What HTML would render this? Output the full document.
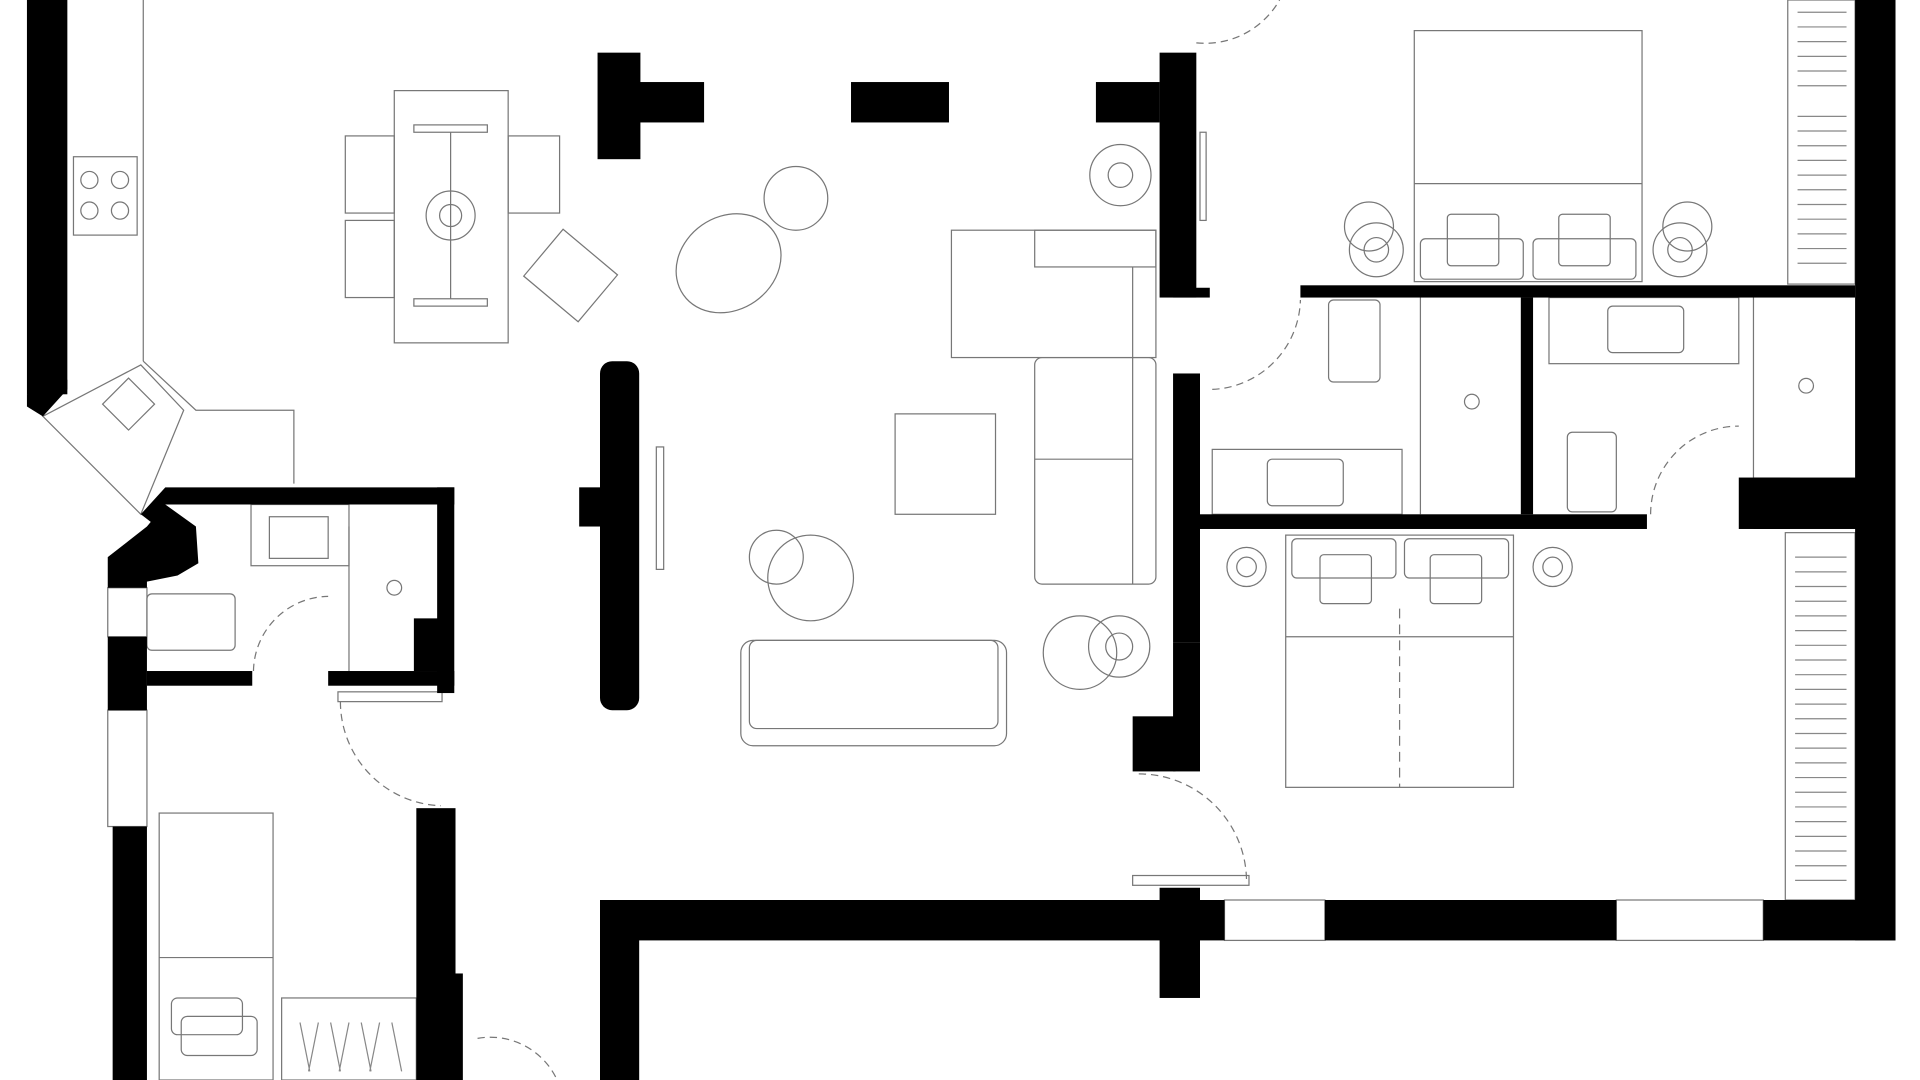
<!DOCTYPE html>
<html><head><meta charset="utf-8"><style>
html,body{margin:0;padding:0;background:#fff;width:1920px;height:1080px;overflow:hidden}
svg{display:block}
</style></head><body>
<svg width="1920" height="1080" viewBox="0 0 1568 882" preserveAspectRatio="none" xmlns="http://www.w3.org/2000/svg">
<rect width="1568" height="882" fill="#fff"/>
<g fill="none" stroke="#777" stroke-width="1">
 <!-- kitchen -->
 <rect x="60" y="128" width="52" height="64"/>
 <circle cx="73" cy="147" r="7"/><circle cx="98" cy="147" r="7"/><circle cx="73" cy="172" r="7"/><circle cx="98" cy="172" r="7"/>
 <line x1="117" y1="0" x2="117" y2="295"/>
 <polyline points="117,295 160,335 240,335 240,395"/>
 <polygon points="35,340 115,298 150,335 115,420"/>
 <rect x="90" y="315" width="30" height="30" transform="rotate(45 105 330)"/>
 <!-- dining -->
 <rect x="322" y="74" width="93" height="206"/>
 <rect x="282" y="111" width="40" height="63"/><rect x="282" y="180" width="40" height="63"/>
 <rect x="415" y="111" width="42" height="63"/>
 <rect x="338" y="102" width="60" height="6"/><rect x="338" y="244" width="60" height="6"/>
 <line x1="368" y1="108" x2="368" y2="244"/>
 <circle cx="368" cy="176" r="20"/><circle cx="368" cy="176" r="9"/>
 <rect x="437" y="200" width="58" height="50" transform="rotate(40 466 225)"/>
 <ellipse cx="595" cy="215" rx="45" ry="38" transform="rotate(-35 595 215)"/>
 <circle cx="650" cy="162" r="26"/>
 <circle cx="915" cy="143" r="25"/><circle cx="915" cy="143" r="10"/>
 <!-- sofa -->
 <rect x="777" y="188" width="167" height="104"/>
 <rect x="845" y="188" width="99" height="30"/>
 <rect x="845" y="292" width="99" height="185" rx="6"/>
 <line x1="845" y1="375" x2="925" y2="375"/>
 <line x1="925" y1="218" x2="925" y2="477"/>
 <rect x="731" y="338" width="82" height="82"/>
 <circle cx="634" cy="455" r="22"/><circle cx="662" cy="472" r="35"/>
 <rect x="605" y="523" width="217" height="86" rx="10"/>
 <rect x="612" y="523" width="203" height="72" rx="6"/>
 <circle cx="882" cy="533" r="30"/><circle cx="914" cy="528" r="25"/><circle cx="914" cy="528" r="11"/>
 <rect x="536" y="365" width="6" height="100"/>
 <!-- bedroom top right -->
 <rect x="1155" y="25" width="186" height="205"/>
 <line x1="1155" y1="150" x2="1341" y2="150"/>
 <rect x="1160" y="195" width="84" height="33" rx="4"/><rect x="1252" y="195" width="84" height="33" rx="4"/>
 <rect x="1182" y="175" width="42" height="42" rx="3"/><rect x="1273" y="175" width="42" height="42" rx="3"/>
 <circle cx="1118" cy="185" r="20"/><circle cx="1124" cy="204" r="22"/><circle cx="1124" cy="204" r="10"/>
 <circle cx="1378" cy="185" r="20"/><circle cx="1372" cy="204" r="22"/><circle cx="1372" cy="204" r="10"/>
 <rect x="980" y="108" width="5" height="72"/>
 <!-- bathrooms right -->
 <rect x="1085" y="245" width="42" height="67" rx="4"/>
 <line x1="1160" y1="243" x2="1160" y2="420"/>
 <circle cx="1202" cy="328" r="6"/>
 <rect x="990" y="367" width="155" height="53"/>
 <rect x="1035" y="375" width="62" height="38" rx="4"/>
 <rect x="1265" y="243" width="155" height="54"/>
 <rect x="1313" y="250" width="62" height="38" rx="4"/>
 <line x1="1432" y1="243" x2="1432" y2="390"/>
 <circle cx="1475" cy="315" r="6"/>
 <rect x="1280" y="353" width="40" height="65" rx="4"/>
 <!-- bedroom lower right -->
 <rect x="1050" y="437" width="186" height="206"/>
 <rect x="1055" y="440" width="85" height="32" rx="4"/><rect x="1147" y="440" width="85" height="32" rx="4"/>
 <rect x="1078" y="453" width="42" height="40" rx="3"/><rect x="1168" y="453" width="42" height="40" rx="3"/>
 <line x1="1050" y1="520" x2="1236" y2="520"/>
 <line x1="1143" y1="497" x2="1143" y2="643" stroke-dasharray="8,5"/>
 <circle cx="1018" cy="463" r="16"/><circle cx="1018" cy="463" r="8"/>
 <circle cx="1268" cy="463" r="16"/><circle cx="1268" cy="463" r="8"/>
 <!-- wardrobes -->
 <rect x="1460" y="0" width="55" height="232"/>
 <rect x="1458" y="435" width="57" height="300"/>
 <!-- small bath left -->
 <rect x="205" y="412" width="80" height="50"/>
 <rect x="220" y="422" width="48" height="34"/>
 <line x1="285" y1="430" x2="285" y2="548"/>
 <circle cx="322" cy="480" r="6"/>
 <rect x="120" y="485" width="72" height="46" rx="4"/>
 <!-- left bedroom -->
 <rect x="130" y="664" width="93" height="218"/>
 <line x1="130" y1="782" x2="223" y2="782"/>
 <rect x="140" y="815" width="58" height="30" rx="5"/>
 <rect x="148" y="830" width="62" height="32" rx="5"/>
 <rect x="230" y="815" width="110" height="67"/>
 <rect x="88" y="480" width="32" height="40"/>
 <rect x="88" y="580" width="32" height="95"/>
 <rect x="276" y="565" width="85" height="8"/>
 <rect x="1000" y="735" width="82" height="33"/>
 <rect x="1320" y="735" width="120" height="33"/>
 <rect x="925" y="715" width="95" height="8"/>
</g>
<g fill="none" stroke="#777" stroke-width="1" stroke-dasharray="6,4">
 <path d="M977,35 A70,70 0 0 0 1045,0"/>
 <path d="M990,318 A75,75 0 0 0 1062,245"/>
 <path d="M1348,420 A72,72 0 0 1 1420,348"/>
 <path d="M207,548 A62,62 0 0 1 268,487"/>
 <path d="M278,573 A85,85 0 0 0 360,658"/>
 <path d="M930,632 A88,88 0 0 1 1018,720"/>
 <path d="M390,848 A60,60 0 0 1 455,882"/>
</g>
<g stroke="#888" stroke-width="1">
 <path d="M1468,10 h40 M1468,22 h40 M1468,34 h40 M1468,46 h40 M1468,58 h40 M1468,70 h40 M1468,95 h40 M1468,107 h40 M1468,119 h40 M1468,131 h40 M1468,143 h40 M1468,155 h40 M1468,167 h40 M1468,179 h40 M1468,191 h40 M1468,203 h40 M1468,215 h40"/>
 <path d="M1466,455 h42 M1466,467 h42 M1466,479 h42 M1466,491 h42 M1466,503 h42 M1466,515 h42 M1466,527 h42 M1466,539 h42 M1466,551 h42 M1466,563 h42 M1466,575 h42 M1466,587 h42 M1466,599 h42 M1466,611 h42 M1466,623 h42 M1466,635 h42 M1466,647 h42 M1466,659 h42 M1466,671 h42 M1466,683 h42 M1466,695 h42 M1466,707 h42 M1466,719 h42"/>
 <path d="M245,835 l8,40 M260,835 l-8,40 M270,835 l8,40 M285,835 l-8,40 M295,835 l8,40 M310,835 l-8,40 M320,835 l8,40"/>
</g>
<g fill="#000">
 <rect x="22" y="0" width="33" height="322"/>
 <polygon points="22,322 55,310 55,318 35,340 22,332"/>
 <polygon points="115,420 135,398 371,398 371,412 135,412 128,430"/>
 <rect x="357" y="398" width="14" height="168"/>
 <rect x="338" y="505" width="20" height="43"/>
 <polygon points="88,455 120,430 135,412 160,430 162,460 145,470 120,475 120,480 88,480"/>
 <rect x="88" y="520" width="32" height="60"/>
 <rect x="120" y="548" width="86" height="12"/>
 <rect x="268" y="548" width="103" height="12"/>
 <rect x="92" y="675" width="28" height="207"/>
 <rect x="340" y="660" width="32" height="222"/>
 <rect x="368" y="795" width="10" height="87"/>
 <rect x="488" y="43" width="35" height="87"/>
 <rect x="522" y="67" width="53" height="33"/>
 <rect x="695" y="67" width="80" height="33"/>
 <rect x="895" y="67" width="52" height="33"/>
 <rect x="947" y="43" width="30" height="200"/>
 <rect x="958" y="235" width="30" height="8"/>
 <rect x="958" y="305" width="22" height="220"/>
 <rect x="958" y="525" width="22" height="105"/>
 <rect x="925" y="585" width="35" height="45"/>
 <rect x="1062" y="233" width="453" height="10"/>
 <rect x="1242" y="243" width="10" height="177"/>
 <rect x="980" y="420" width="365" height="12"/>
 <rect x="1420" y="390" width="100" height="42"/>
 <rect x="1432" y="390" width="30" height="42"/>
 <rect x="1515" y="0" width="33" height="768"/>
 <rect x="490" y="735" width="510" height="33"/>
 <rect x="1082" y="735" width="238" height="33"/>
 <rect x="1440" y="735" width="108" height="33"/>
 <rect x="490" y="735" width="32" height="147"/>
 <rect x="947" y="725" width="33" height="90"/>
 <rect x="490" y="295" width="32" height="285" rx="10"/>
 <rect x="473" y="398" width="20" height="32"/>
</g>
</svg>
</body></html>
